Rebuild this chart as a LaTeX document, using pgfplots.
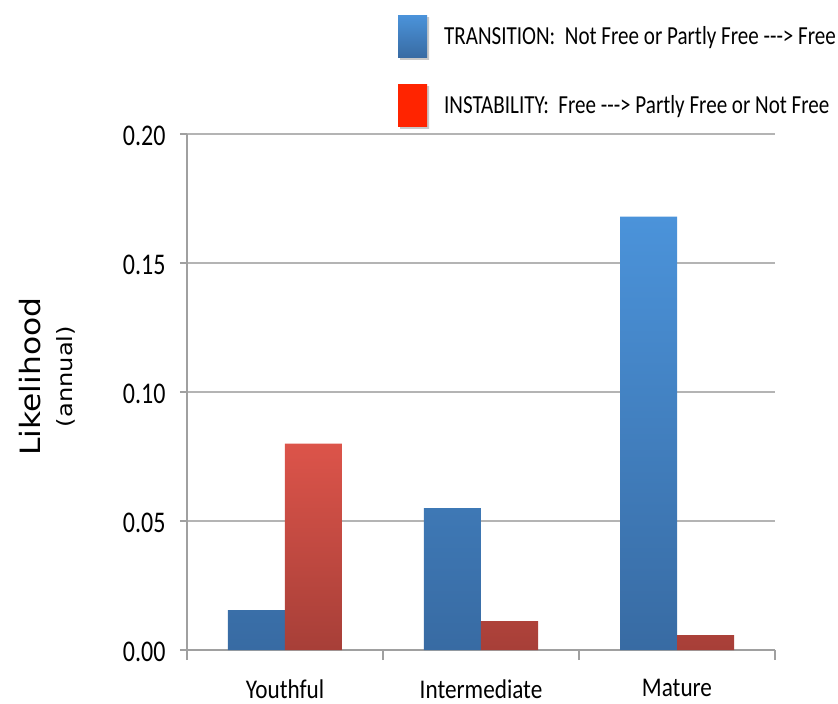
\documentclass[border=0pt]{standalone}
\usepackage{fontspec}
\setmainfont{Carlito}
\newfontfamily\dejavu{DejaVu Sans}
\usepackage{graphicx}
\usepackage{pgfplots}
\pgfplotsset{compat=1.18}

\definecolor{blueTop}{HTML}{4B93DA}
\definecolor{blueBot}{HTML}{386BA3}
\definecolor{redTop}{HTML}{DC544A}
\definecolor{redBot}{HTML}{A73F38}
\definecolor{legRed}{HTML}{FF2400}
\definecolor{shadowgray}{HTML}{C8C8C8}
\definecolor{gridgray}{HTML}{B4B4B4}
\definecolor{axisgray}{HTML}{A0A0A0}

% annual likelihood of regime change by age structure
\pgfplotstableread{
x trans inst
0 0.0155 0.0800
1 0.0550 0.0112
2 0.1680 0.0058
}\likelihood

\newcommand{\narrow}[2]{\scalebox{#1}[1]{#2}}
\newcommand{\arr}{-\kern0pt-\kern0pt-\kern0pt>}

\begin{document}
\begin{tikzpicture}
\begin{axis}[
  at={(0pt,0pt)}, anchor=south west,
  scale only axis, width=588pt, height=516pt,
  xmin=-0.5, xmax=2.5, ymin=0, ymax=0.2,
  axis lines*=left,
  axis line style={axisgray, line width=1.4pt},
  ybar=0pt, bar width=57pt,
  xtick={0,1,2},
  xticklabels={\narrow{0.86}{Youthful},\narrow{0.86}{Intermediate},\narrow{0.86}{Mature}},
  xticklabel style={font=\fontsize{27}{29}\selectfont, text=black, yshift=-19pt},
  major x tick style={draw=none},
  minor xtick={-0.5,0.5,1.5,2.5},
  minor tick length=10pt,
  minor x tick style={axisgray, line width=1.4pt},
  ytick={0,0.05,0.1,0.15,0.2},
  yticklabels={\narrow{0.8}{0.00},\narrow{0.8}{0.05},\narrow{0.8}{0.10},\narrow{0.8}{0.15},\narrow{0.8}{0.20}},
  yticklabel style={font=\fontsize{30}{32}\selectfont, text=black, xshift=-11pt, yshift=-2pt},
  tick align=outside,
  major tick length=7pt,
  major y tick style={axisgray, line width=1.4pt},
  ymajorgrids, grid style={gridgray, line width=1.2pt},
  ylabel={{\dejavu\fontsize{28}{30}\selectfont\narrow{1.12}{Likelihood}}\\[15pt]{\dejavu\fontsize{21}{23}\selectfont\narrow{1.15}{(annual)}}},
  ylabel style={at={(axis description cs:-0.238,0.53)}, anchor=center, align=center},
  legend style={draw=none, fill=none, at={(axis description cs:0.3588,1.2306)},
    anchor=north west, row sep=25pt, inner sep=0pt,
    nodes={inner sep=0pt}, font=\fontsize{26}{28}\selectfont},
  legend cell align=left,
  /tikz/every odd column/.append style={column sep=15pt},
]
\addplot[ybar, draw=none, top color=blueTop, bottom color=blueBot,
  legend image code/.code={
    \shade[top color=shadowgray, bottom color=shadowgray] (2pt,-23pt) rectangle (31pt,19pt);
    \shade[top color=blueTop, bottom color=blueBot] (0pt,-21pt) rectangle (29pt,21pt);}]
  table[x=x, y=trans]{\likelihood};
\addlegendentry{\narrow{0.81}{TRANSITION:\ \ Not Free or Partly Free \arr{} Free}}
\addplot[ybar, draw=none, top color=redTop, bottom color=redBot,
  legend image code/.code={
    \shade[top color=shadowgray, bottom color=shadowgray] (2pt,-23pt) rectangle (31pt,19pt);
    \shade[top color=legRed, bottom color=legRed] (0pt,-21pt) rectangle (29pt,21pt);}]
  table[x=x, y=inst]{\likelihood};
\addlegendentry{\narrow{0.81}{INSTABILITY:\ \ Free \arr{} Partly Free or Not Free}}
\end{axis}
\pgfresetboundingbox
\path[use as bounding box] (-187pt,-54pt) rectangle (651pt,650pt);
\end{tikzpicture}
\end{document}
